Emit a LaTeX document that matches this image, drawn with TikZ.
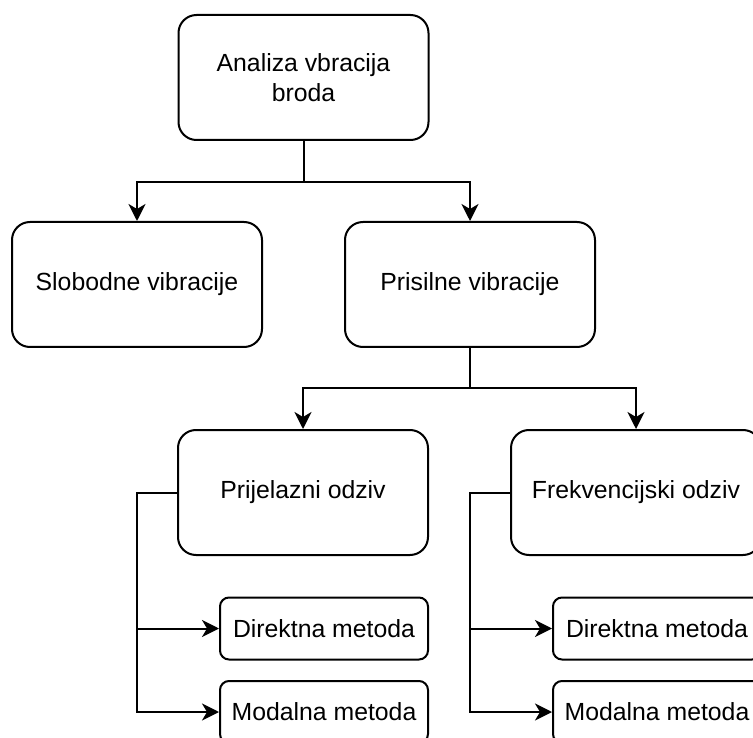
\documentclass[tikz,border=0pt]{standalone}
\usepackage{fontspec}
\setmainfont{Liberation Sans}
\usetikzlibrary{arrows.meta}
\begin{document}
\begin{tikzpicture}[x=1pt,y=-1pt,
 box/.style={draw, line width=2pt, rounded corners=18pt, minimum width=250pt, minimum height=125pt, inner sep=0pt, align=center, font=\fontsize{24.8}{30}\selectfont},
 smallbox/.style={draw, line width=2pt, rounded corners=9pt, minimum width=208pt, minimum height=62pt, inner sep=0pt, font=\fontsize{24.8}{30}\selectfont},
 arr/.style={line width=2pt, -{Stealth[length=17pt,width=17pt,inset=5pt]}}]
\useasboundingbox (0,0) rectangle (753,738);
\clip (0,0) rectangle (753,738);
\node[box] (top) at (303.5,77.5) {Analiza vbracija\\broda};
\node[box] (slob) at (137,284.5) {Slobodne vibracije};
\node[box] (pris) at (470,284.5) {Prisilne vibracije};
\node[box] (prij) at (303,492.5) {Prijelazni odziv};
\node[box] (frek) at (636,492.5) {Frekvencijski odziv};
\node[smallbox] (dirL) at (324,628.5) {Direktna metoda};
\node[smallbox] (modL) at (324,712) {Modalna metoda};
\node[smallbox] (dirR) at (657,628.5) {Direktna metoda};
\node[smallbox] (modR) at (657,712) {Modalna metoda};
\coordinate (j1) at (303.5,182);
\coordinate (j2) at (470,388);
\coordinate (bL) at (137,492.5);
\coordinate (bR) at (470,492.5);
\draw[arr] (top.south) -- (j1) -| (slob.north);
\draw[arr] (top.south) -- (j1) -| (pris.north);
\draw[arr] (pris.south) -- (j2) -| (prij.north);
\draw[arr] (pris.south) -- (j2) -| (frek.north);
\draw[arr] (prij.west) -- (bL) |- (dirL.west);
\draw[arr] (prij.west) -- (bL) |- (modL.west);
\draw[arr] (frek.west) -- (bR) |- (dirR.west);
\draw[arr] (frek.west) -- (bR) |- (modR.west);
\end{tikzpicture}
\end{document}
